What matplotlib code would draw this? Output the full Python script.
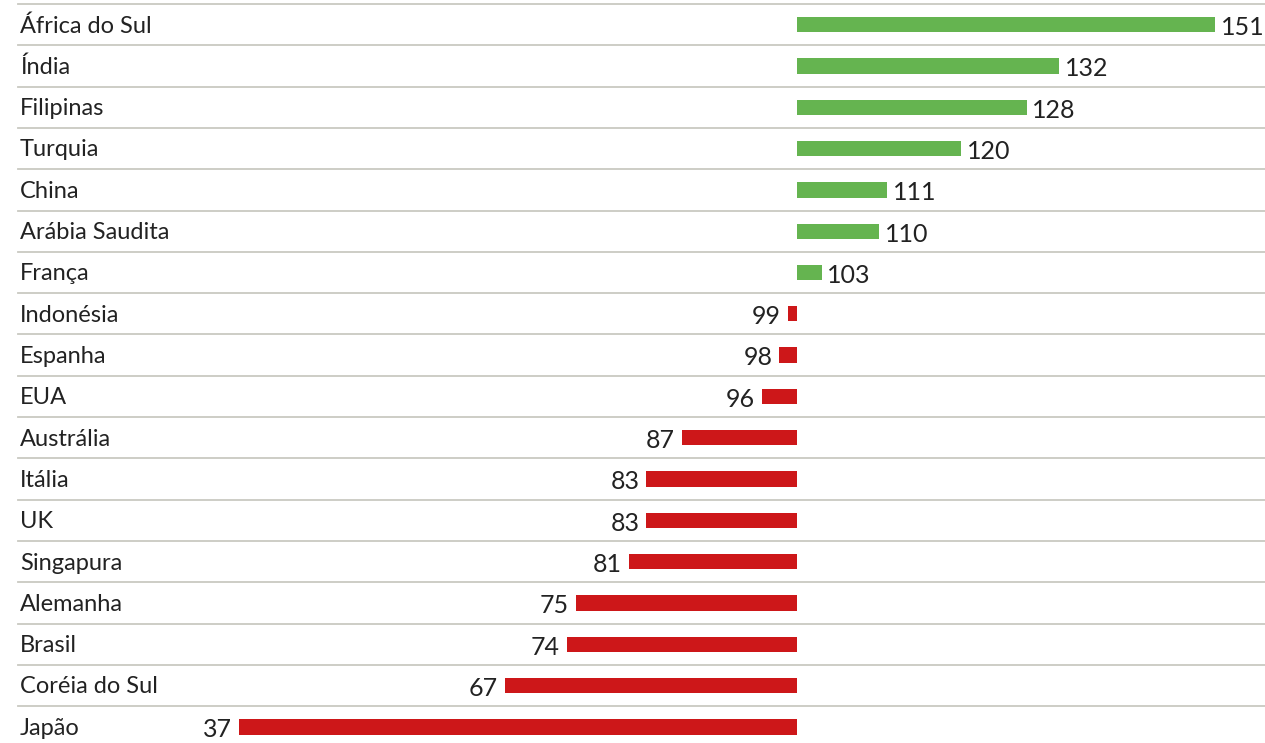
import numpy as np
import matplotlib.pyplot as plt

# data (index, 100 = baseline)
countries = ["África do Sul", "Índia", "Filipinas", "Turquia", "China", "Arábia Saudita",
             "França", "Indonésia", "Espanha", "EUA", "Austrália", "Itália", "UK",
             "Singapura", "Alemanha", "Brasil", "Coréia do Sul", "Japão"]
values = [151, 132, 128, 120, 111, 110, 103, 99, 98, 96, 87, 83, 83, 81, 75, 74, 67, 37]

base = 100
green = "#65b450"
red = "#cd1719"
grid_col = "#c9c9c1"
text_col = "#222222"
plt.rcParams['font.family'] = ['Lato', 'DejaVu Sans']

# the left side of the original is drawn a bit wider than the right side
k_neg = 1.08
def fwd(x):
    x = np.asarray(x, dtype=float)
    return np.where(x < base, base + (x - base) * k_neg, x)
def inv(x):
    x = np.asarray(x, dtype=float)
    return np.where(x < base, base + (x - base) / k_neg, x)

fig = plt.figure(figsize=(12.65, 7.43), dpi=100)
ax = fig.add_axes([0, 0, 1, 1])
ax.set_xscale('function', functions=(fwd, inv))

y = np.arange(len(countries))
widths = [v - base for v in values]
colors = [green if v > base else red for v in values]
ax.barh(y, widths, left=base, height=0.37, color=colors, zorder=2)

for i, (name, v) in enumerate(zip(countries, values)):
    ax.text(20 / 1265, i + 0.19, name, transform=ax.get_yaxis_transform(),
            ha='left', va='baseline', fontsize=17, color=text_col)
    if v > base:
        ax.annotate(str(v), (v, i + 0.25), xytext=(4, 0), textcoords='offset points',
                    ha='left', va='baseline', fontsize=18, color=text_col)
    else:
        ax.annotate(str(v), (v, i + 0.25), xytext=(-5, 0), textcoords='offset points',
                    ha='right', va='baseline', fontsize=18, color=text_col)

for s in np.arange(-0.5, len(countries) - 1, 1.0):
    ax.axhline(s, xmin=18 / 1265, xmax=1, color=grid_col, lw=1.3, zorder=1)

ax.set_xlim(float(inv(2.8)), 157.07)
ax.set_ylim(17.39, -0.597)
ax.axis('off')

fig.savefig("out.png", dpi=100)
